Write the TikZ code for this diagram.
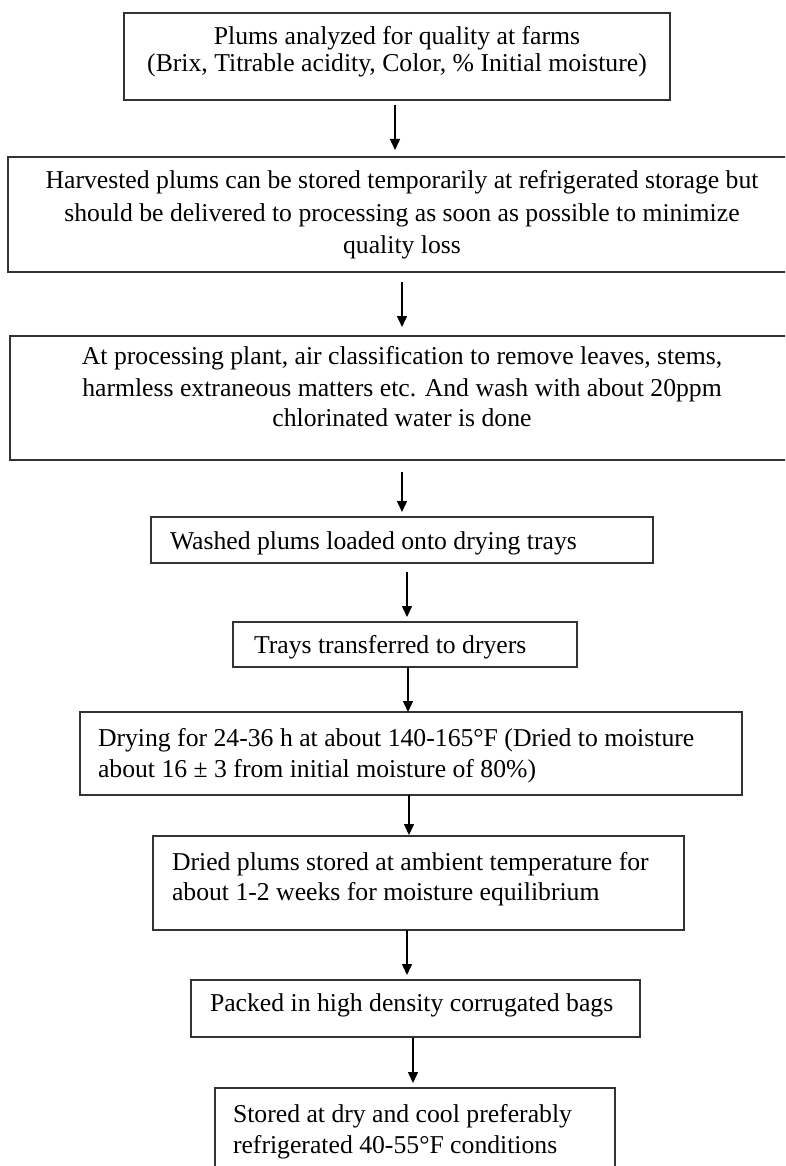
\documentclass[tikz,border=0pt]{standalone}
\usepackage{fontspec}
\setmainfont{Liberation Serif}
\usetikzlibrary{arrows.meta}
\tikzset{
  stepbox/.style={draw=boxgray, line width=2pt, inner sep=0pt, outer sep=0pt, anchor=north west, fill=white},
  linetext/.style={inner sep=0pt, outer sep=0pt, font=\fontsize{25.7}{30}\selectfont, text=black},
  flowarrow/.style={draw=black, line width=1.5pt, -{Triangle[width=10pt,length=11pt]}}
}
\definecolor{boxgray}{HTML}{333333}
\begin{document}
\begin{tikzpicture}[x=1pt,y=-1pt]
\useasboundingbox (0,0) rectangle (785,1166);
\fill[white] (0,0) rectangle (785,1166);
\clip (0,0) rectangle (785,1166);
% boxes
\node[stepbox, minimum width=546pt, minimum height=87pt]  (b1) at (124,13) {};
\node[stepbox, minimum width=789pt, minimum height=115pt] (b2) at (8,157) {};
\node[stepbox, minimum width=785pt, minimum height=124pt] (b3) at (10,336) {};
\node[stepbox, minimum width=502pt, minimum height=46pt]  (b4) at (151,517) {};
\node[stepbox, minimum width=344pt, minimum height=45pt]  (b5) at (233,622) {};
\node[stepbox, minimum width=662pt, minimum height=83pt]  (b6) at (80,712) {};
\node[stepbox, minimum width=531pt, minimum height=94pt]  (b7) at (153,836) {};
\node[stepbox, minimum width=449pt, minimum height=57pt]  (b8) at (191,980) {};
\node[stepbox, minimum width=400pt, minimum height=97pt]  (b9) at (215,1088) {};
% texts
\node[linetext, anchor=base] (t1a) at (397,45) {Plums analyzed for quality at farms};
\node[linetext, anchor=base] (t1b) at (397,72) {(Brix, Titrable acidity, Color, \% Initial moisture)};
\node[linetext, anchor=base] (t2a) at (402,189) {Harvested plums can be stored temporarily at refrigerated storage but};
\node[linetext, anchor=base] (t2b) at (402,222) {should be delivered to processing as soon as possible to minimize};
\node[linetext, anchor=base] (t2c) at (402,253) {quality loss};
\node[linetext, anchor=base] (t3a) at (402,364) {At processing plant, air classification to remove leaves, stems,};
\node[linetext, anchor=base] (t3b) at (402,396) {harmless extraneous matters etc. And wash with about 20ppm};
\node[linetext, anchor=base] (t3c) at (402,426) {chlorinated water is done};
\node[linetext, anchor=base west] (t4) at (170,549) {Washed plums loaded onto drying trays};
\node[linetext, anchor=base west] (t5) at (254,653) {Trays transferred to dryers};
\node[linetext, anchor=base west] (t6a) at (98,746) {Drying for 24-36 h at about 140-165°F (Dried to moisture};
\node[linetext, anchor=base west] (t6b) at (98,777) {about 16 ± 3 from initial moisture of 80\%)};
\node[linetext, anchor=base west] (t7a) at (172,870) {Dried plums stored at ambient temperature for};
\node[linetext, anchor=base west] (t7b) at (172,900) {about 1-2 weeks for moisture equilibrium};
\node[linetext, anchor=base west] (t8) at (210,1011) {Packed in high density corrugated bags};
\node[linetext, anchor=base west] (t9a) at (233,1122) {Stored at dry and cool preferably};
\node[linetext, anchor=base west] (t9b) at (233,1153) {refrigerated 40-55°F conditions};
% arrows
\draw[flowarrow] ([yshift=-5pt]b1.south -| 395,0) -- ([yshift=7pt]b2.north -| 395,0);
\draw[flowarrow] ([yshift=-10pt]b2.south -| 402,0) -- ([yshift=9pt]b3.north -| 402,0);
\draw[flowarrow] ([yshift=-12pt]b3.south -| 402,0) -- ([yshift=5pt]b4.north -| 402,0);
\draw[flowarrow] ([yshift=-9pt]b4.south -| 407,0) -- ([yshift=5pt]b5.north -| 407,0);
\draw[flowarrow] (b5.south -| 408,0) -- (b6.north -| 408,0);
\draw[flowarrow] (b6.south -| 409,0) -- ([yshift=1pt]b7.north -| 409,0);
\draw[flowarrow] (b7.south -| 407,0) -- ([yshift=5pt]b8.north -| 407,0);
\draw[flowarrow] ([yshift=-1pt]b8.south -| 413,0) -- ([yshift=5pt]b9.north -| 413,0);
\end{tikzpicture}
\end{document}
